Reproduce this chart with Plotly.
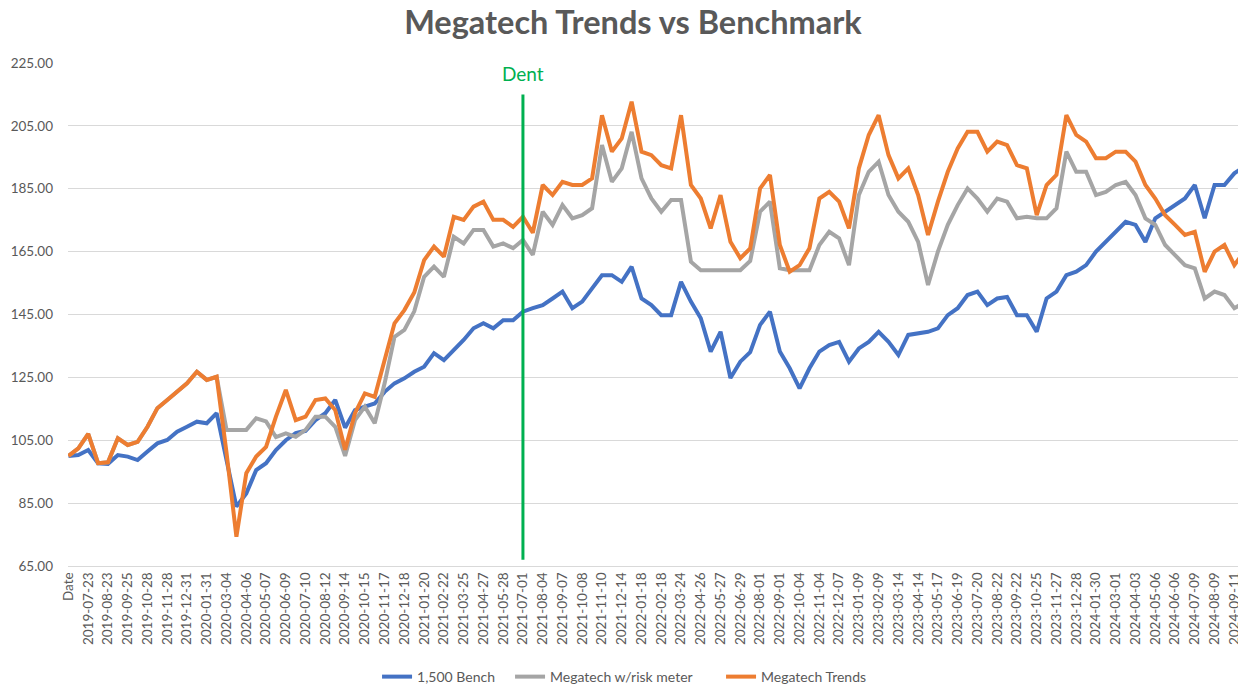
import plotly.graph_objects as go

# ---- Data ----
# x-axis category labels (every 22nd trading day; first category is the header "Date")
tick_labels = ["Date", "2019-07-23", "2019-08-23", "2019-09-25", "2019-10-28", "2019-11-28",
               "2019-12-31", "2020-01-31", "2020-03-04", "2020-04-06", "2020-05-07",
               "2020-06-09", "2020-07-10", "2020-08-12", "2020-09-14", "2020-10-15",
               "2020-11-17", "2020-12-18", "2021-01-20", "2021-02-22", "2021-03-25",
               "2021-04-27", "2021-05-28", "2021-07-01", "2021-08-04", "2021-09-07",
               "2021-10-08", "2021-11-10", "2021-12-14", "2022-01-18", "2022-02-18",
               "2022-03-24", "2022-04-26", "2022-05-27", "2022-06-29", "2022-08-01",
               "2022-09-01", "2022-10-04", "2022-11-04", "2022-12-07", "2023-01-09",
               "2023-02-09", "2023-03-14", "2023-04-14", "2023-05-17", "2023-06-19",
               "2023-07-20", "2023-08-22", "2023-09-22", "2023-10-25", "2023-11-27",
               "2023-12-28", "2024-01-30", "2024-03-01", "2024-04-03", "2024-05-06",
               "2024-06-06", "2024-07-09", "2024-08-09", "2024-09-11"]
label_step = 22          # trading days between labels
sample_step = 11         # trading days between sampled values
last_day = 1304          # trading-day index of the final observation

bench = [100, 100.3, 101.9, 97.7, 97.5, 100.3, 99.8, 98.7, 101.4, 104.0,
         105.1, 107.7, 109.3, 110.9, 110.4, 113.6, 98.7, 83.9, 88.1, 95.5,
         97.7, 101.9, 105.0, 107.3, 108.0, 111.4, 113.6, 117.8, 109.0, 114.6,
         115.7, 116.7, 120.4, 123.1, 124.7, 126.8, 128.4, 132.7, 130.5, 133.7,
         136.9, 140.6, 142.2, 140.6, 143.2, 143.2, 145.9, 147.0, 148.0, 150.1,
         152.3, 147.0, 149.1, 153.3, 157.5, 157.5, 155.4, 160.2, 150.1, 148.0,
         144.8, 144.8, 155.4, 149.1, 143.8, 133.2, 139.5, 124.8, 130.0, 133.0,
         141.7, 145.9, 133.2, 127.9, 121.5, 127.9, 133.2, 135.3, 136.3, 130.0,
         134.2, 136.3, 139.5, 136.3, 132.1, 138.5, 139.0, 139.5, 140.6, 144.8,
         147.0, 151.2, 152.3, 148.0, 150.1, 150.6, 144.8, 144.8, 139.5, 150.1,
         152.3, 157.5, 158.6, 160.7, 165.0, 168.1, 171.3, 174.5, 173.5, 168.1,
         175.6, 177.7, 179.8, 181.9, 186.2, 175.6, 186.2, 186.2, 189.9, 191.0]

trends = [100, 102.4, 107.0, 97.7, 98.0, 105.6, 103.5, 104.5, 109.3, 115.2,
          117.8, 120.4, 123.1, 126.8, 124.2, 125.2, 101.0, 74.3, 94.5, 99.8,
          102.9, 112.5, 121.0, 111.4, 112.5, 117.8, 118.3, 114.6, 102.0, 113.6,
          119.9, 118.8, 130.5, 142.2, 146.4, 152.0, 162.3, 166.6, 163.4, 176.1,
          175.1, 179.3, 180.9, 175.1, 175.1, 172.9, 176.1, 171.0, 186.2, 183.0,
          187.2, 186.2, 186.2, 188.3, 208.4, 196.8, 201.0, 212.7, 196.8, 195.7,
          192.5, 191.5, 208.4, 186.2, 181.9, 172.4, 183.0, 168.1, 162.9, 166.0,
          185.1, 189.4, 167.1, 158.6, 160.7, 166.1, 181.9, 184.0, 180.9, 172.4,
          191.5, 202.1, 208.4, 195.7, 188.3, 191.5, 183.0, 170.3, 180.9, 190.4,
          197.8, 203.1, 203.1, 196.8, 200.0, 198.9, 192.5, 191.5, 176.6, 186.2,
          189.4, 208.4, 202.1, 200.0, 194.7, 194.7, 196.8, 196.8, 193.6, 186.2,
          181.9, 176.6, 173.5, 170.3, 171.3, 158.6, 165.0, 167.1, 160.7, 163.0]

risk = [100, 102.4, 107.0, 97.7, 98.0, 105.6, 103.5, 104.5, 109.3, 115.2,
        117.8, 120.4, 123.1, 126.8, 124.2, 125.2, 108.3, 108.3, 108.3, 112.0,
        111.0, 106.0, 107.2, 106.1, 108.3, 112.5, 112.5, 109.3, 100.0, 111.4,
        115.7, 110.4, 123.1, 137.9, 140.1, 146.0, 157.0, 160.2, 157.0, 169.7,
        167.6, 171.9, 171.9, 166.6, 167.6, 166.1, 168.7, 164.0, 177.7, 173.5,
        179.8, 175.6, 176.6, 178.8, 198.9, 187.2, 191.5, 203.1, 188.3, 181.9,
        177.7, 181.4, 181.4, 161.8, 159.1, 159.1, 159.1, 159.1, 159.1, 162.0,
        177.7, 180.9, 159.7, 159.1, 159.1, 159.1, 167.1, 171.3, 169.2, 160.7,
        183.0, 190.4, 193.6, 183.0, 177.7, 174.5, 168.1, 154.4, 165.0, 173.5,
        179.8, 185.1, 181.9, 177.7, 181.9, 180.9, 175.6, 176.1, 175.6, 175.6,
        178.8, 196.8, 190.4, 190.4, 183.0, 184.0, 186.2, 187.2, 183.0, 175.6,
        173.5, 167.1, 163.9, 160.7, 159.7, 150.1, 152.3, 151.2, 147.0, 148.0]

dent_label = "2021-07-01"
dent_range = [67, 215]

series_names = ["1,500 Bench", "Megatech w/risk meter", "Megatech Trends"]
colors = ["#4472C4", "#A5A5A5", "#ED7D31"]
legend_widths = [88, 166, 112]

# ---- Build ----
n = len(trends)
day_index = [k * sample_step for k in range(n - 1)] + [last_day]
tick_vals = [i * label_step for i in range(len(tick_labels))]
dent_x = tick_vals[tick_labels.index(dent_label)]

fig = go.Figure()
for name, vals, col, lw in zip(series_names, [bench, risk, trends], colors, legend_widths):
    fig.add_trace(go.Scatter(x=day_index[:len(vals)], y=vals, mode="lines", name=name,
                             legendwidth=lw, line=dict(color=col, width=4)))

fig.add_shape(type="line", xref="x", yref="y", x0=dent_x, x1=dent_x,
              y0=dent_range[0], y1=dent_range[1], line=dict(color="#00B050", width=3))
fig.add_annotation(x=dent_x, y=221.8, xref="x", yref="y", text="Dent", showarrow=False,
                   font=dict(family="Lato", size=19, color="#00B050"))

# page body has an 8px margin, so the figure is sized to fill the rest of the window
fig.update_layout(
    width=1238, height=679,
    paper_bgcolor="white", plot_bgcolor="white",
    margin=dict(l=60, r=0, t=55, b=121, autoexpand=False),
    title=dict(text="<b>Megatech Trends vs Benchmark</b>", x=0.5048, xanchor="center",
               y=0.978, yanchor="middle", yref="container",
               font=dict(family="Lato", size=32.5, color="#595959")),
    showlegend=True,
    legend=dict(orientation="h", x=0.475, xanchor="center", y=0.0147, yanchor="middle",
                yref="container",
                font=dict(family="Lato", size=14, color="#595959"),
                bgcolor="rgba(0,0,0,0)"),
    xaxis=dict(range=[-0.5, 1311], tickmode="array", tickvals=tick_vals,
               ticktext=tick_labels, tickangle=-90, showgrid=False, zeroline=False,
               showline=True, linecolor="#D9D9D9", linewidth=1, ticks="",
               automargin=False, ticklabeloverflow="allow",
               tickfont=dict(family="Lato", size=13.5, color="#595959")),
    yaxis=dict(range=[65, 225], dtick=20, tick0=65, tickformat=".2f", showgrid=True,
               gridcolor="#D9D9D9", gridwidth=1, zeroline=False, showline=False,
               ticks="", ticklabelstandoff=14, automargin=False,
               tickfont=dict(family="Lato", size=13.5, color="#595959")),
)

fig.write_html("out.html")
